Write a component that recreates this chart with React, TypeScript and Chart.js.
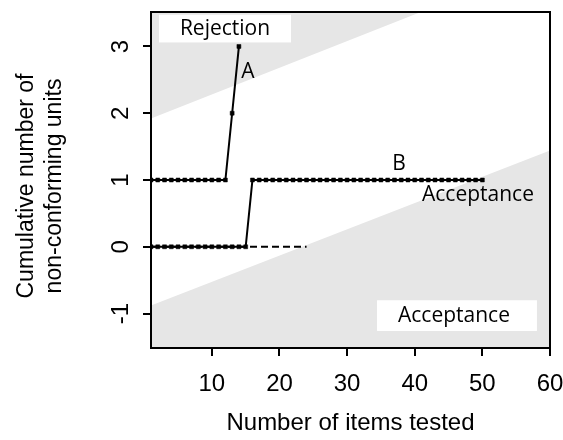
import React, { useEffect, useRef } from 'react';
import { Chart, registerables } from 'chart.js';

Chart.register(...registerables);

// Decision boundaries (sequential sampling plan)
const boundaryX = [1, 60];
const rejectionY = [1.92, 4.28];
const acceptanceY = [-0.88, 1.44];

// Series A: cumulative non-conforming units
const seriesAX = [1, 2, 3, 4, 5, 6, 7, 8, 9, 10, 11, 12, 13, 14];
const seriesAY = [1, 1, 1, 1, 1, 1, 1, 1, 1, 1, 1, 1, 2, 3];

// Series B
const seriesBX = [
  1, 2, 3, 4, 5, 6, 7, 8, 9, 10, 11, 12, 13, 14, 15, 16, 17, 18, 19, 20, 21, 22, 23, 24, 25,
  26, 27, 28, 29, 30, 31, 32, 33, 34, 35, 36, 37, 38, 39, 40, 41, 42, 43, 44, 45, 46, 47, 48, 49, 50,
];
const seriesBY = [
  0, 0, 0, 0, 0, 0, 0, 0, 0, 0, 0, 0, 0, 0, 0, 1, 1, 1, 1, 1, 1, 1, 1, 1, 1,
  1, 1, 1, 1, 1, 1, 1, 1, 1, 1, 1, 1, 1, 1, 1, 1, 1, 1, 1, 1, 1, 1, 1, 1, 1,
];

// Dashed reference line
const dashedX = [1, 24];
const dashedY = [0, 0];

// Axes
const xTicks = [10, 20, 30, 40, 50, 60];
const yTicks = [-1, 0, 1, 2, 3];
const xTitle = 'Number of items tested';
const yTitle = ['Cumulative number of', 'non-conforming units'];

const toPts = (xs: number[], ys: number[]) => xs.map((x, i) => ({ x, y: ys[i] }));

const AXIS_FONT = 'Liberation Sans, Arial, sans-serif';
const NOTE_FONT = '"Open Sans", sans-serif';

const decorPlugin = {
  id: 'decor',
  afterDatasetsDraw(chart: any) {
    const { ctx, chartArea } = chart;
    const xs = chart.scales.x;
    const ys = chart.scales.y;
    const px = (v: number) => xs.getPixelForValue(v);
    const py = (v: number) => ys.getPixelForValue(v);
    ctx.save();

    // white label boxes
    ctx.fillStyle = '#ffffff';
    const box = (x0: number, x1: number, y0: number, y1: number) => {
      ctx.fillRect(px(x0), py(y0), px(x1) - px(x0), py(y1) - py(y0));
    };
    box(2.18, 21.7, 3.475, 3.06);
    box(34.42, 58.07, -0.801, -1.261);

    // annotation text
    ctx.fillStyle = '#000';
    ctx.font = `21px ${NOTE_FONT}`;
    ctx.textAlign = 'center';
    ctx.textBaseline = 'alphabetic';
    const text = (s: string, x: number, y: number) => ctx.fillText(s, px(x), py(y));
    text('Rejection', 11.94, 3.175);
    text('A', 15.34, 2.53);
    text('B', 37.67, 1.15);
    text('Acceptance', 49.35, 0.685);
    text('Acceptance', 45.8, -1.126);

    // frame
    ctx.strokeStyle = '#000';
    ctx.lineWidth = 2;
    ctx.strokeRect(chartArea.left, chartArea.top, chartArea.right - chartArea.left, chartArea.bottom - chartArea.top);

    // rotated y tick labels
    ctx.font = `24px ${AXIS_FONT}`;
    yTicks.forEach((v) => {
      ctx.save();
      ctx.translate(chartArea.left - 23, py(v));
      ctx.rotate(-Math.PI / 2);
      ctx.textAlign = 'center';
      ctx.textBaseline = 'alphabetic';
      ctx.fillText(String(v), 0, 0);
      ctx.restore();
    });

    // y axis title (two lines, rotated)
    ctx.font = `23px ${AXIS_FONT}`;
    const midY = (chartArea.top + chartArea.bottom) / 2 + 6;
    yTitle.forEach((line, i) => {
      ctx.save();
      ctx.translate(33 + i * 28, midY);
      ctx.rotate(-Math.PI / 2);
      ctx.textAlign = 'center';
      ctx.textBaseline = 'alphabetic';
      ctx.fillText(line, 0, 0);
      ctx.restore();
    });
    ctx.restore();
  },
};

export default function App() {
  const canvasRef = useRef<HTMLCanvasElement | null>(null);

  useEffect(() => {
    if (!canvasRef.current) return;
    const lineStyle = {
      borderColor: '#000',
      borderWidth: 2,
      pointStyle: 'rect',
      pointRadius: 2.8,
      pointBorderWidth: 0.5,
      pointBackgroundColor: '#000',
      pointBorderColor: '#000',
      tension: 0,
      fill: false,
    };
    const chart = new Chart(canvasRef.current, {
      type: 'line',
      data: {
        datasets: [
          { label: 'A', data: toPts(seriesAX, seriesAY), order: 1, ...lineStyle } as any,
          { label: 'B', data: toPts(seriesBX, seriesBY), order: 2, ...lineStyle } as any,
          {
            label: 'dashed',
            data: toPts(dashedX, dashedY),
            order: 3,
            borderColor: '#000',
            borderWidth: 1.8,
            borderDash: [7, 4],
            pointRadius: 0,
            fill: false,
          },
          {
            label: 'Rejection',
            data: toPts(boundaryX, rejectionY),
            order: 4,
            borderWidth: 0,
            borderColor: 'rgba(0,0,0,0)',
            pointRadius: 0,
            backgroundColor: '#e6e6e6',
            fill: 'end',
          },
          {
            label: 'Acceptance',
            data: toPts(boundaryX, acceptanceY),
            order: 5,
            borderWidth: 0,
            borderColor: 'rgba(0,0,0,0)',
            pointRadius: 0,
            backgroundColor: '#e6e6e6',
            fill: 'start',
          },
        ],
      },
      options: {
        animation: false,
        responsive: false,
        layout: { padding: { top: 12, right: 13, left: 0, bottom: 0 } },
        plugins: {
          legend: { display: false },
          tooltip: { enabled: false },
        },
        scales: {
          x: {
            type: 'linear',
            min: 1,
            max: 60,
            afterBuildTicks: (s: any) => {
              s.ticks = xTicks.map((v) => ({ value: v }));
            },
            afterFit: (s: any) => {
              s.height = 92;
              s.paddingLeft = 0;
              s.paddingRight = 0;
            },
            grid: { drawOnChartArea: false, drawTicks: true, tickLength: 8, color: '#000', lineWidth: 2 },
            border: { display: false },
            ticks: {
              color: '#000',
              font: { family: AXIS_FONT, size: 24 },
              padding: 14,
              maxRotation: 0,
              autoSkip: false,
            },
            title: {
              display: true,
              text: xTitle,
              color: '#000',
              font: { family: AXIS_FONT, size: 24, lineHeight: 1 },
              padding: { top: 0, bottom: 5 },
            },
          },
          y: {
            type: 'linear',
            min: -1.516,
            max: 3.516,
            afterBuildTicks: (s: any) => {
              s.ticks = yTicks.map((v) => ({ value: v }));
            },
            afterFit: (s: any) => {
              s.width = 151;
              s.paddingTop = 0;
              s.paddingBottom = 0;
            },
            grid: { drawOnChartArea: false, drawTicks: true, tickLength: 8, color: '#000', lineWidth: 2 },
            border: { display: false },
            ticks: { display: false },
            title: { display: false },
          },
        },
      } as any,
      plugins: [decorPlugin],
    });
    return () => chart.destroy();
  }, []);

  return (
    <div style={{ position: 'fixed', left: 0, top: 0, width: 563, height: 440, background: '#fff' }}>
      <canvas ref={canvasRef} width={563} height={440} style={{ display: 'block' }} />
    </div>
  );
}
